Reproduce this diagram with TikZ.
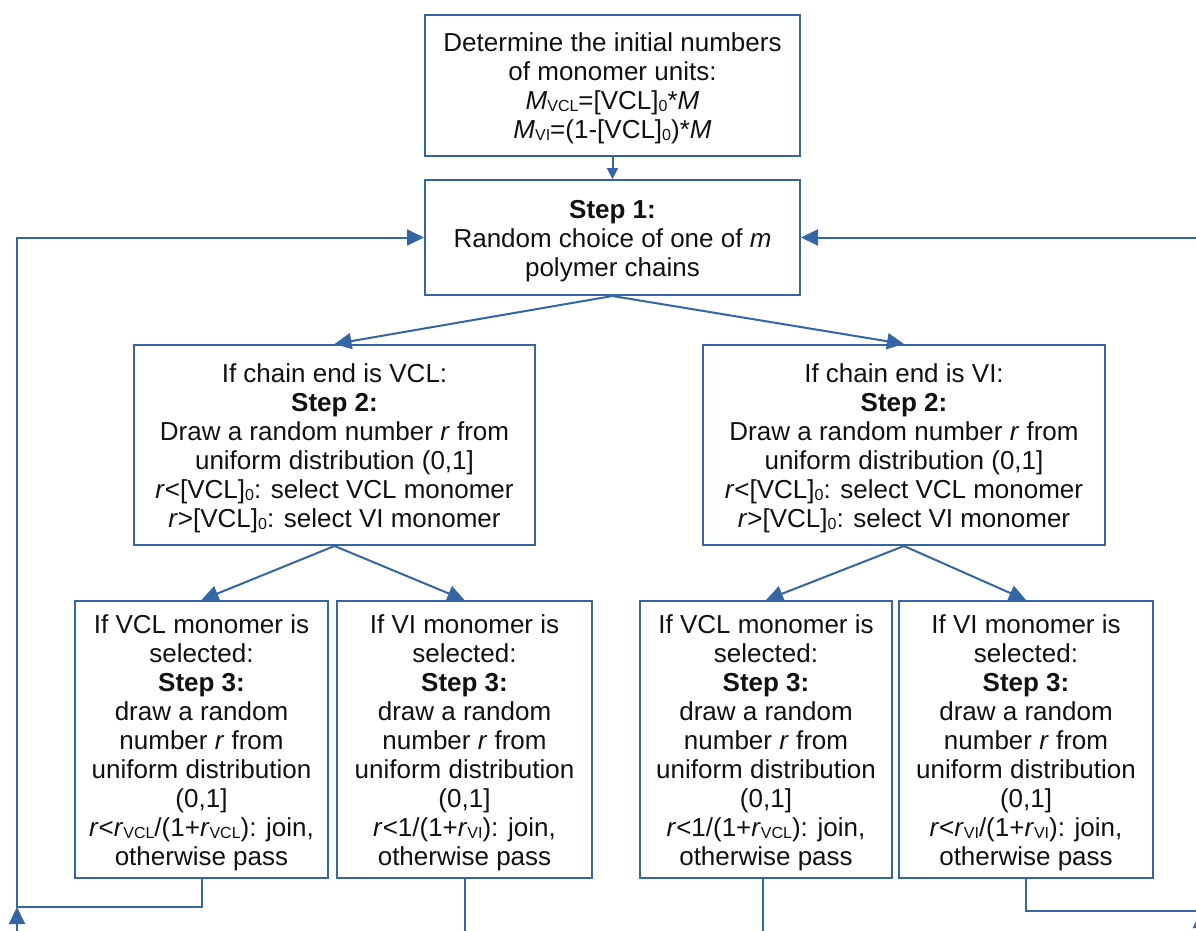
\documentclass[tikz,border=0pt]{standalone}
\usepackage{fontspec}
\setmainfont{Liberation Sans}
\usetikzlibrary{arrows.meta}
\definecolor{lineblue}{HTML}{3465A4}
\definecolor{txt}{HTML}{111111}
\newcommand{\lo}[1]{\raisebox{-2pt}{\fontsize{16}{16}\selectfont #1}}
\newcommand{\topstrut}{\rule{0pt}{25pt}}
\tikzset{
  box/.style={draw=lineblue, line width=2pt, rectangle, inner sep=0pt, align=center,
    text=txt, font=\fontsize{26}{29}\selectfont},
  conn/.style={draw=lineblue, line width=2pt},
  arr/.style={conn, -{Triangle[length=17pt,width=16pt]}},
  smallarr/.style={conn, -{Triangle[length=11pt,width=11pt]}},
}
\begin{document}
\begin{tikzpicture}[x=1pt,y=-1pt]
\clip (0,0) rectangle (1196,930);
\fill[white] (0,0) rectangle (1196,930);

\node[box, minimum width=375pt, minimum height=141pt] (init) at (612.5,85.5)
 {\topstrut Determine the initial numbers\\ of monomer units:\\ \textit{M}\lo{VCL}=[VCL]\lo{0}*\textit{M}\\ \textit{M}\lo{VI}=(1-[VCL]\lo{0})*\textit{M}};

\node[box, minimum width=375pt, minimum height=115pt] (s1) at (612.5,237.5)
 {\topstrut\textbf{Step 1:}\\ Random choice of one of \textit{m}\\ polymer chains};

\node[box, minimum width=401pt, minimum height=200pt] (s2l) at (334.5,445)
 {\topstrut If chain end is VCL:\\ \textbf{Step 2:}\\ Draw a random number \textit{r} from\\ uniform distribution (0,1]\\ \textit{r}<[VCL]\lo{0}: select VCL monomer\\ \textit{r}>[VCL]\lo{0}: select VI monomer};

\node[box, minimum width=402pt, minimum height=200pt] (s2r) at (904,445)
 {\topstrut If chain end is VI:\\ \textbf{Step 2:}\\ Draw a random number \textit{r} from\\ uniform distribution (0,1]\\ \textit{r}<[VCL]\lo{0}: select VCL monomer\\ \textit{r}>[VCL]\lo{0}: select VI monomer};

\node[box, minimum width=253pt, minimum height=277pt] (b1) at (201.5,739.5)
 {\topstrut If VCL monomer is\\ selected:\\ \textbf{Step 3:}\\ draw a random\\ number \textit{r} from\\ uniform distribution\\ (0,1]\\ \textit{r}<\textit{r}\lo{VCL}/(1+\textit{r}\lo{VCL}): join,\\ otherwise pass};

\node[box, minimum width=255pt, minimum height=277pt] (b2) at (464.5,739.5)
 {\topstrut If VI monomer is\\ selected:\\ \textbf{Step 3:}\\ draw a random\\ number \textit{r} from\\ uniform distribution\\ (0,1]\\ \textit{r}<1/(1+\textit{r}\lo{VI}): join,\\ otherwise pass};

\node[box, minimum width=252pt, minimum height=277pt] (b3) at (766,739.5)
 {\topstrut If VCL monomer is\\ selected:\\ \textbf{Step 3:}\\ draw a random\\ number \textit{r} from\\ uniform distribution\\ (0,1]\\ \textit{r}<1/(1+\textit{r}\lo{VCL}): join,\\ otherwise pass};

\node[box, minimum width=254pt, minimum height=277pt] (b4) at (1026,739.5)
 {\topstrut If VI monomer is\\ selected:\\ \textbf{Step 3:}\\ draw a random\\ number \textit{r} from\\ uniform distribution\\ (0,1]\\ \textit{r}<\textit{r}\lo{VI}/(1+\textit{r}\lo{VI}): join,\\ otherwise pass};

% connectors
\draw[smallarr] (init.south) -- (s1.north);
\draw[arr] (s1.south) -- (s2l.north);
\draw[arr] (s1.south) -- (s2r.north);
\draw[arr] (s2l.south) -- (b1.north);
\draw[arr] (s2l.south) -- (b2.north);
\draw[arr] (s2r.south) -- (b3.north);
\draw[arr] (s2r.south) -- (b4.north);

% feedback loops
\coordinate (lb) at (17,907);
\coordinate (lt) at (17,237.5);
\coordinate (lin) at (17,945);
\coordinate (rb) at (1201,911);
\coordinate (rt) at (1201,237.5);
\coordinate (rin) at (1201,945);
\coordinate (b2out) at (464.5,945);
\coordinate (b3out) at (763,945);

\draw[arr] (b1.south) |- (lb) -- (lt) -- (s1.west);
\draw[arr] (lin) -- (lb);
\draw[conn] (b2.south) -- (b2out);
\draw[conn] ([xshift=-3pt]b3.south) -- (b3out);
\draw[conn] (b4.south) |- (rb);
\draw[arr] (rin) -- (rb);
\draw[arr] (rb) -- (rt) -- (s1.east);
\end{tikzpicture}
\end{document}
